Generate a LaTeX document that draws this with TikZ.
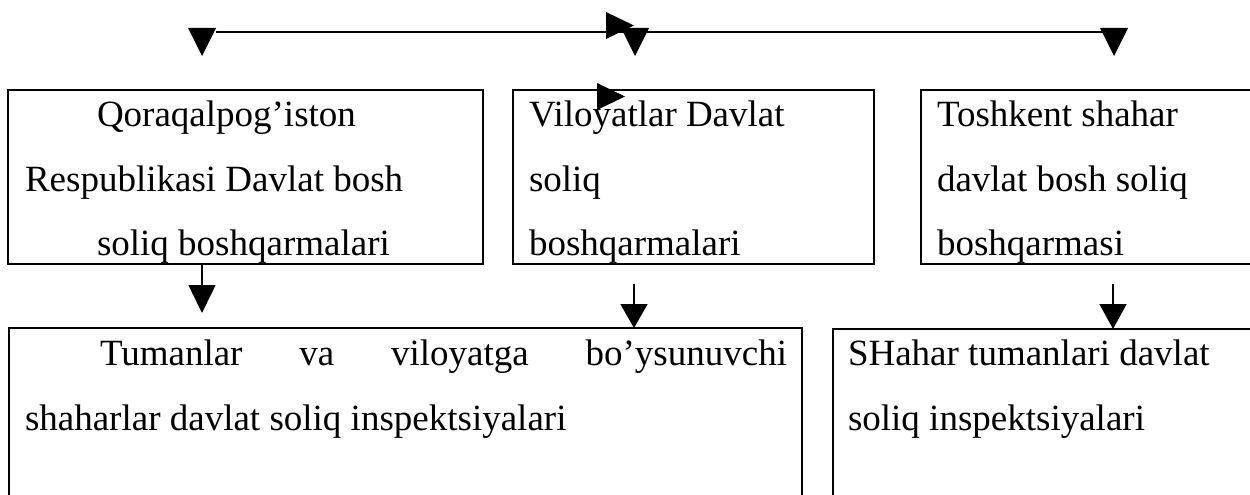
\documentclass[tikz,border=0pt]{standalone}
\usepackage{fontspec}
\setmainfont{Liberation Serif}
\usetikzlibrary{arrows.meta}
\tikzset{
  box/.style={draw, line width=1.6pt, inner sep=0pt, outer sep=0pt, anchor=north west},
  txt/.style={inner sep=0pt, outer sep=0pt, anchor=base west, font=\fontsize{37}{44}\selectfont},
  arr/.style={line width=1.5pt, -{Triangle[length=#1, width=27pt]}},
  head/.style={fill=black},
  topline/.style={line width=1.5pt}
}
\newcommand\dtri[2]{\fill[head] ({#1-14},{#2}) -- ({#1+14},{#2}) -- ({#1},{#2+28}) -- cycle;}
\newcommand\rtri[2]{\fill[head] ({#1},{#2-13.5}) -- ({#1+28},{#2}) -- ({#1},{#2+13.5}) -- cycle;}
\begin{document}
\begin{tikzpicture}[x=1pt,y=-1pt]
\useasboundingbox (0,0) rectangle (1250,495);
\clip (0,0) rectangle (1250,495);
% boxes
\node[box, minimum width=475pt, minimum height=174pt] (qq) at (8,90) {};
\node[box, minimum width=361pt, minimum height=174pt] (vil) at (513,90) {};
\node[box, minimum width=340pt, minimum height=174pt] (tosh) at (921,90) {};
\node[box, minimum width=793pt, minimum height=200pt] (tum) at (9,328) {};
\node[box, minimum width=430pt, minimum height=200pt] (shah) at (833,329) {};
% texts
\node[txt] (q1) at (97,126) {Qoraqalpog’iston};
\node[txt] (q2) at (25,191) {Respublikasi Davlat bosh};
\node[txt] (q3) at (97,255) {soliq boshqarmalari};
\node[txt] (v1) at (529,126) {Viloyatlar Davlat};
\node[txt] (v2) at (529,191) {soliq};
\node[txt] (v3) at (529,255) {boshqarmalari};
\node[txt] (t1) at (937,126) {Toshkent shahar};
\node[txt] (t2) at (937,191) {davlat bosh soliq};
\node[txt] (t3) at (937,255) {boshqarmasi};
\node[txt] (u1) at (100,365) {\makebox[687pt][l]{Tumanlar\hfill va\hfill viloyatga\hfill bo’ysunuvchi}};
\node[txt] (u2) at (25,430) {shaharlar davlat soliq inspektsiyalari};
\node[txt] (s1) at (848,365) {SHahar tumanlari davlat};
\node[txt] (s2) at (848,430) {soliq inspektsiyalari};
% top line and heads
\coordinate (L) at (216,32);
\coordinate (R) at (1103,32);
\draw[topline] (L) -- (R);
\dtri{202}{28}
\dtri{635}{28}
\dtri{1114}{28}
\rtri{606}{25.5}
\rtri{597}{96.5}
% vertical arrows
\coordinate (c1) at (202,264);
\coordinate (c2) at (634,284);
\coordinate (c3) at (1113,284);
\draw[arr=28pt] (c1 |- qq.south) -- (202,313);
\draw[arr=24pt] (c2) -- (c2 |- tum.north);
\draw[arr=25pt] (c3) -- (c3 |- shah.north);
\end{tikzpicture}
\end{document}
